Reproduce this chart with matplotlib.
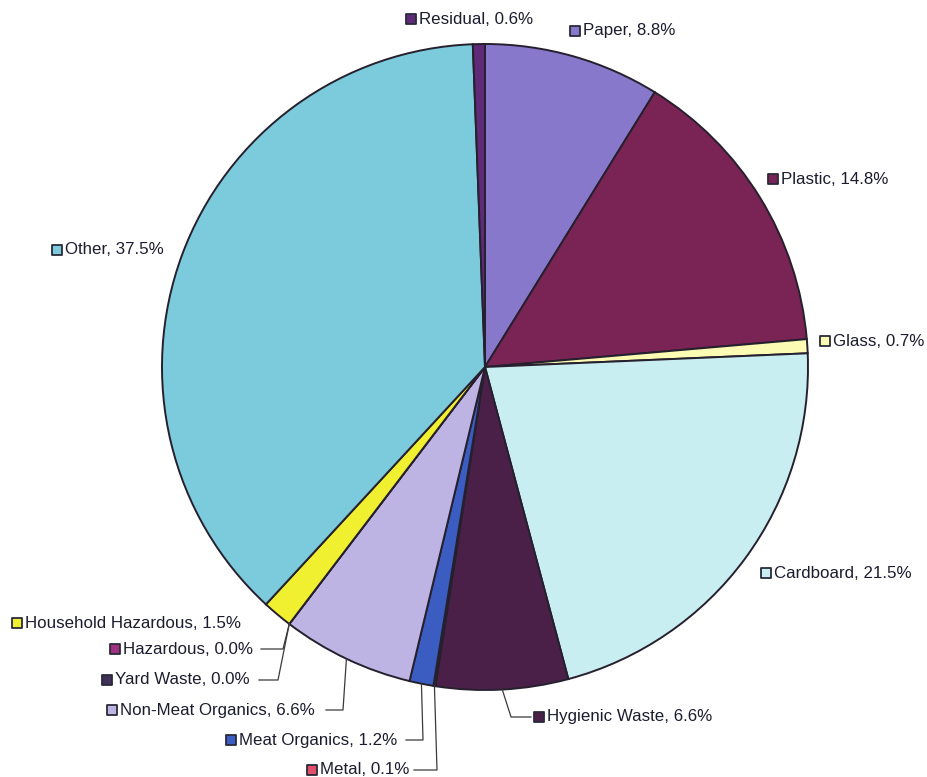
import numpy as np
import matplotlib
matplotlib.use("Agg")
import matplotlib.pyplot as plt

# waste composition, clockwise from 12 o'clock
categories = ["Paper", "Plastic", "Glass", "Cardboard", "Hygienic Waste", "Metal",
              "Meat Organics", "Non-Meat Organics", "Yard Waste", "Hazardous",
              "Household Hazardous", "Other", "Residual"]
percent = [8.8, 14.8, 0.7, 21.5, 6.6, 0.1, 1.2, 6.6, 0.0, 0.0, 1.5, 37.5, 0.6]
colors = ["#8878cc", "#7a2456", "#fbfbb4", "#c8eef2", "#4b2048", "#e0506a",
          "#3b5cc0", "#bdb4e4", "#40305a", "#a03080", "#f0f030", "#7ccbdc", "#5f2a78"]

# label anchors (marker centre) in pixel coords, y downwards
label_pos = {
    "Residual": (411, 19), "Paper": (575, 31), "Plastic": (773, 179),
    "Glass": (825, 341), "Cardboard": (766, 573), "Other": (57, 250),
    "Household Hazardous": (17, 623), "Hazardous": (115, 649),
    "Yard Waste": (107, 680), "Non-Meat Organics": (112, 710),
    "Meat Organics": (231, 740), "Metal": (312, 770), "Hygienic Waste": (539, 717),
}
# leader lines: (elbow x, line end x)
leaders = {
    "Hazardous": (283, 261), "Yard Waste": (278, 259),
    "Non-Meat Organics": (343, 326), "Meat Organics": (423, 406),
    "Metal": (437, 414), "Hygienic Waste": (511, 531),
}

W, H = 928, 777
fig = plt.figure(figsize=(W / 100, H / 100), dpi=100)
ax = fig.add_axes([0, 0, 1, 1])

cx, cy, r = 485, 367, 323
# y axis runs downwards, so start at 270 and go counterclockwise in data coords
wedges, _ = ax.pie(percent, colors=colors, startangle=270, counterclock=True,
                   center=(cx, cy), radius=r, frame=True,
                   wedgeprops=dict(edgecolor="#26202e", linewidth=1.4))
ax.set_xlim(0, W)
ax.set_ylim(H, 0)
ax.set_aspect("equal")
ax.axis("off")

txt_color = "#1c1c30"
for name, val, col, w in zip(categories, percent, colors, wedges):
    mx, my = label_pos[name]
    ax.scatter([mx], [my], marker="s", s=62, facecolor=col, edgecolor="#2a2a3a",
               linewidth=1.3, zorder=5)
    ax.text(mx + 8, my, f"{name}, {val:.1f}%", ha="left", va="center",
            fontsize=12.2, family="Liberation Sans", color=txt_color)
    if name in leaders:
        ex, endx = leaders[name]
        ang = np.deg2rad((w.theta1 + w.theta2) / 2)
        px = cx + r * np.cos(ang)
        py = cy + r * np.sin(ang)
        ax.plot([px, ex, endx], [py, my, my], color="#3a3a3a", lw=0.9, zorder=4)

fig.savefig("out.png", dpi=100, facecolor="white")
